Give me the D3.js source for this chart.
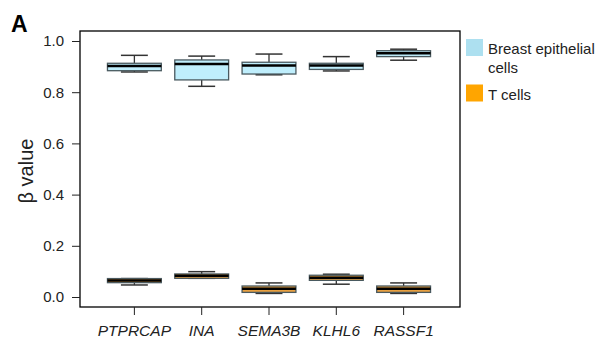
<!DOCTYPE html>
<html><head><meta charset="utf-8">
<script src="https://cdn.jsdelivr.net/npm/d3@7"></script>
<style>body{margin:0;background:#fff}svg{display:block}text{font-family:"Liberation Sans",Arial,sans-serif}</style>
</head><body>
<svg id="c" width="603" height="339"></svg>
<script>
const genes = ["PTPRCAP","INA","SEMA3B","KLHL6","RASSF1"];
const yTicks = [0.0,0.2,0.4,0.6,0.8,1.0];
// [whiskerLow, q1, median, q3, whiskerHigh]
const breastStats = [
  [0.879,0.884,0.902,0.913,0.944],
  [0.823,0.848,0.910,0.926,0.941],
  [0.868,0.871,0.904,0.917,0.949],
  [0.883,0.889,0.904,0.913,0.939],
  [0.925,0.939,0.952,0.962,0.968]
];
const tcellStats = [
  [0.047,0.056,0.064,0.072,0.072],
  [0.073,0.073,0.083,0.090,0.099],
  [0.014,0.018,0.032,0.043,0.055],
  [0.050,0.065,0.075,0.085,0.089],
  [0.014,0.018,0.032,0.043,0.055]
];
const groups = ["Breast epithelial cells","T cells"];
const groupColors = ["#ade0f0","#ffa500"];
const boxFills = ["#bfeefc","#e8a040"];

const svg = d3.select("#c");
const L=80,R=460,T=31,B=307;
const x = d3.scaleBand().domain(genes).range([94,444]).padding(0.2);
const y = d3.scaleLinear().domain([0,1]).range([297,41]);

// frame
svg.append("rect").attr("x",L).attr("y",T).attr("width",R-L).attr("height",B-T)
  .attr("fill","none").attr("stroke","#000").attr("stroke-width",1.3);

// y axis
const ya = svg.append("g").attr("transform",`translate(${L},0)`)
  .call(d3.axisLeft(y).tickValues(yTicks).tickFormat(d3.format(".1f")).tickSize(8).tickSizeOuter(0));
ya.select(".domain").remove();
ya.selectAll("text").attr("font-size",15).attr("fill","#222").attr("x",-16).attr("font-family","Liberation Sans, Arial, sans-serif");
ya.selectAll("line").attr("stroke","#222");

// x axis
const xa = svg.append("g").attr("transform",`translate(0,${B})`)
  .call(d3.axisBottom(x).tickSize(8).tickSizeOuter(0));
xa.select(".domain").remove();
xa.selectAll("text").attr("font-size",15.5).attr("font-style","italic").attr("fill","#222").attr("y",18).attr("font-family","Liberation Sans, Arial, sans-serif");
xa.selectAll("line").attr("stroke","#222");

function drawBoxes(stats, fill){
  const g = svg.append("g");
  stats.forEach((s,i)=>{
    const cx = x(genes[i]) + x.bandwidth()/2;
    const bw = x.bandwidth();
    const cap = bw/2;
    g.append("line").attr("x1",cx).attr("x2",cx).attr("y1",y(s[3])).attr("y2",y(s[4])).attr("stroke","#333").attr("stroke-width",1.3);
    g.append("line").attr("x1",cx).attr("x2",cx).attr("y1",y(s[0])).attr("y2",y(s[1])).attr("stroke","#333").attr("stroke-width",1.3);
    g.append("line").attr("x1",cx-cap/2).attr("x2",cx+cap/2).attr("y1",y(s[4])).attr("y2",y(s[4])).attr("stroke","#333").attr("stroke-width",1.5);
    g.append("line").attr("x1",cx-cap/2).attr("x2",cx+cap/2).attr("y1",y(s[0])).attr("y2",y(s[0])).attr("stroke","#333").attr("stroke-width",1.5);
    g.append("rect").attr("x",cx-bw/2).attr("y",y(s[3])).attr("width",bw).attr("height",Math.max(1,y(s[1])-y(s[3])))
      .attr("fill",fill).attr("stroke","#4a5a60").attr("stroke-width",1.3);
    g.append("line").attr("x1",cx-bw/2).attr("x2",cx+bw/2).attr("y1",y(s[2])).attr("y2",y(s[2])).attr("stroke","#000").attr("stroke-width",2.5);
  });
}
drawBoxes(breastStats, boxFills[0]);
drawBoxes(tcellStats, boxFills[1]);

// legend
const lg = svg.append("g");
lg.append("rect").attr("x",466).attr("y",39).attr("width",17).attr("height",17).attr("fill",groupColors[0]);
lg.append("text").attr("x",488).attr("y",54).attr("font-size",15).attr("fill","#222").text("Breast epithelial");
lg.append("text").attr("x",488).attr("y",72.5).attr("font-size",15).attr("fill","#222").text("cells");
lg.append("rect").attr("x",466).attr("y",84.5).attr("width",17).attr("height",17).attr("fill",groupColors[1]);
lg.append("text").attr("x",488).attr("y",100).attr("font-size",15).attr("fill","#222").text(groups[1]);

// y title
svg.append("text").attr("transform","translate(33,171) rotate(-90)").attr("text-anchor","middle")
  .attr("font-size",20).attr("fill","#222").text("β value");

// panel label
svg.append("text").attr("x",11).attr("y",32).attr("font-size",23).attr("font-weight","bold").attr("fill","#000").text("A");
</script>
</body></html>
